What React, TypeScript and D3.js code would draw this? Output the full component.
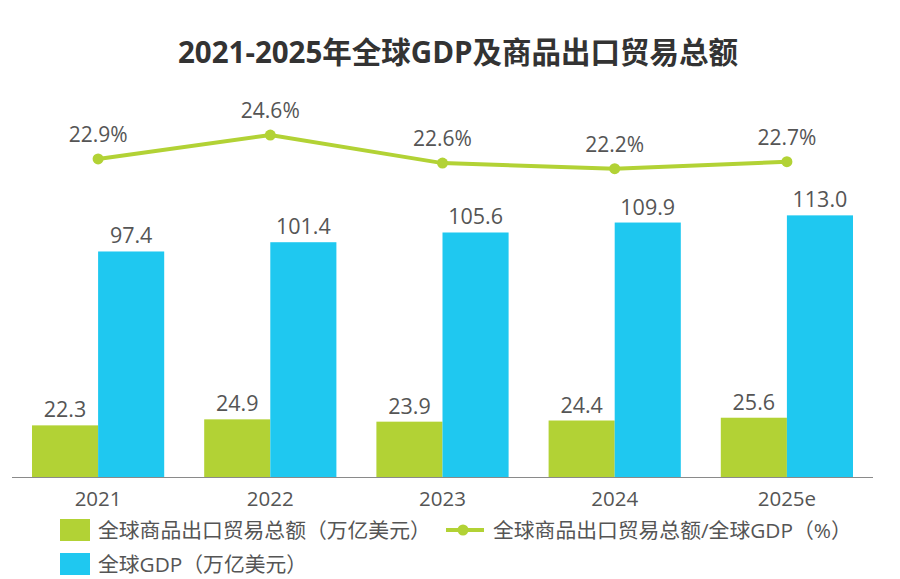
import React from "react";
import * as d3 from "d3";

const years = ["2021", "2022", "2023", "2024", "2025e"];
const exportTotal = [22.3, 24.9, 23.9, 24.4, 25.6];
const gdpTotal = [97.4, 101.4, 105.6, 109.9, 113.0];
const exportRatio = [22.9, 24.6, 22.6, 22.2, 22.7];

const seriesNames = ["全球商品出口贸易总额（万亿美元）", "全球GDP（万亿美元）"];
const lineName = "全球商品出口贸易总额/全球GDP（%）";
const title = "2021-2025年全球GDP及商品出口贸易总额";

const GREEN = "#b2d235";
const BLUE = "#1fc8f0";
const TEXT = "#555555";
const FONT = "'Open Sans', 'Noto Sans CJK SC', sans-serif";

const width = 900;
const height = 579;
const baseY = 477;

const App: React.FC = () => {
  const x0 = d3.scaleBand<string>().domain(years).range([12, 873]);
  const x1 = d3
    .scaleBand<string>()
    .domain(["export", "gdp"])
    .range([20, x0.bandwidth() - 20]);
  const y = d3.scaleLinear().domain([0, 130]).range([baseY, 176]);
  const yLine = d3.scaleLinear().domain([20, 26]).range([199.5, 115.5]);

  const cx = (yr: string) => (x0(yr) as number) + x0.bandwidth() / 2;

  const line = d3
    .line<number>()
    .x((_, i) => cx(years[i]))
    .y((d) => yLine(d));

  return (
    <svg
      width={width}
      height={height}
      style={{ display: "block", position: "absolute", left: 0, top: 0, background: "#fff" }}
      fontFamily={FONT}
    >
      <rect width={width} height={height} fill="#fff" />
      <text
        x={458}
        y={63}
        textAnchor="middle"
        fontSize={29.5}
        fontWeight="bold"
        fill="#333"
      >
        {title}
      </text>

      {/* bars */}
      {years.map((yr, i) => {
        const gx = x0(yr) as number;
        const bw = x1.bandwidth();
        const ex = gx + (x1("export") as number);
        const gdx = gx + (x1("gdp") as number);
        return (
          <g key={yr}>
            <rect x={ex} y={y(exportTotal[i])} width={bw} height={baseY - y(exportTotal[i])} fill={GREEN} />
            <rect x={gdx} y={y(gdpTotal[i])} width={bw} height={baseY - y(gdpTotal[i])} fill={BLUE} />
            <text x={ex + bw / 2} y={y(exportTotal[i]) - 8} textAnchor="middle" fontSize={21.5} fill={TEXT}>
              {exportTotal[i].toFixed(1)}
            </text>
            <text x={gdx + bw / 2} y={y(gdpTotal[i]) - 8} textAnchor="middle" fontSize={21.5} fill={TEXT}>
              {gdpTotal[i].toFixed(1)}
            </text>
            <text x={cx(yr)} y={baseY + 29} textAnchor="middle" fontSize={20.5} fill={TEXT}>
              {yr}
            </text>
          </g>
        );
      })}

      {/* axis */}
      <line x1={12} x2={873} y1={baseY + 0.5} y2={baseY + 0.5} stroke="#8a8a8a" strokeWidth={1} />

      {/* ratio line */}
      <path d={line(exportRatio) || ""} fill="none" stroke={GREEN} strokeWidth={4} />
      {exportRatio.map((v, i) => (
        <g key={years[i]}>
          <circle cx={cx(years[i])} cy={yLine(v)} r={5.5} fill={GREEN} />
          <text x={cx(years[i])} y={yLine(v) - 17} textAnchor="middle" fontSize={21} fill={TEXT}>
            {v.toFixed(1)}%
          </text>
        </g>
      ))}

      {/* legend */}
      <rect x={60} y={519} width={30} height={22} fill={GREEN} />
      <text x={98} y={537.5} fontSize={20.8} fill={TEXT}>
        {seriesNames[0]}
      </text>
      <line x1={446} x2={484} y1={530} y2={530} stroke={GREEN} strokeWidth={4} />
      <circle cx={463} cy={530} r={5.5} fill={GREEN} />
      <text x={493} y={537.5} fontSize={20.8} fill={TEXT}>
        {lineName}
      </text>
      <rect x={60} y={553} width={30} height={22} fill={BLUE} />
      <text x={98} y={571.5} fontSize={20.8} fill={TEXT}>
        {seriesNames[1]}
      </text>
    </svg>
  );
};

export default App;
